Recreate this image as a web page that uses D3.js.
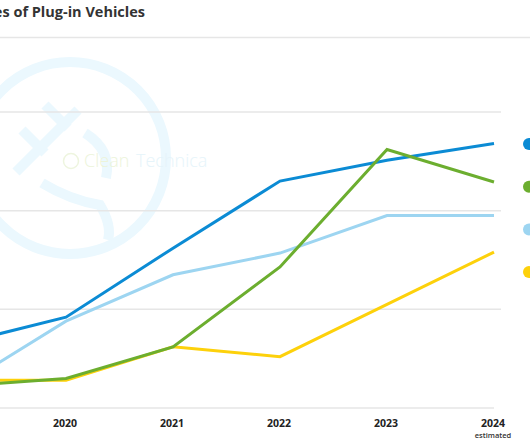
<!DOCTYPE html>
<html>
<head>
<meta charset="utf-8">
<script src="https://cdn.jsdelivr.net/npm/d3@7"></script>
<style>
  html, body { margin: 0; padding: 0; background: #fff; overflow: hidden; }
  svg { display: block; }
</style>
</head>
<body>
<svg id="chart" width="530" height="442"></svg>
<script>
// ---- data ----
const years = [2019, 2020, 2021, 2022, 2023, 2024];
const tickYears = [2020, 2021, 2022, 2023, 2024];
const tickSub = ["", "", "", "", "estimated"];
const yTicks = [0, 1, 2, 3];
const seriesBlue = [0.65, 0.92, 1.62, 2.30, 2.51, 2.68];
const seriesGreen = [0.22, 0.30, 0.62, 1.43, 2.62, 2.29];
const seriesLightBlue = [0.21, 0.88, 1.35, 1.57, 1.95, 1.95];
const seriesYellow = [0.28, 0.28, 0.62, 0.52, 1.05, 1.58];
const colors = { blue: "#0b8bd4", green: "#6cae2f", lightblue: "#9dd5f1", yellow: "#fdd10b" };
const title = "Sales of Plug-in Vehicles";

const svg = d3.select("#chart");
const x = d3.scaleLinear().domain([2019, 2024]).range([-41, 494]);
const y = d3.scaleLinear().domain([0, 3]).range([408, 112]);

// title
svg.append("text").attr("x", 145).attr("y", 17).attr("text-anchor", "end")
  .attr("font-family", "Open Sans").attr("font-weight", 700).attr("font-size", 14.5)
  .attr("fill", "#333").text(title);
svg.append("line").attr("x1", 0).attr("x2", 530).attr("y1", 37.5).attr("y2", 37.5)
  .attr("stroke", "#e6e6e6").attr("stroke-width", 1.5);

// watermark
const wm = svg.append("g").attr("fill", "none").attr("stroke", "#ebf8fe").attr("stroke-width", 10);
wm.append("circle").attr("cx", 70).attr("cy", 158).attr("r", 96);
wm.append("line").attr("x1", 16).attr("y1", 172).attr("x2", 78).attr("y2", 110);
wm.append("line").attr("x1", 22).attr("y1", 130).attr("x2", 45).attr("y2", 153);
wm.append("line").attr("x1", 45).attr("y1", 105).attr("x2", 68).attr("y2", 128);
wm.append("path").attr("d", "M85,133 Q112,150 106,178");
wm.append("path").attr("d", "M42,183 Q70,200 100,205 Q112,225 108,240");
svg.append("circle").attr("cx", 71).attr("cy", 161).attr("r", 7.5).attr("fill", "none")
  .attr("stroke", "#eef5df").attr("stroke-width", 1.5);
const wt = svg.append("g").attr("font-family", "Open Sans").attr("font-weight", 300).attr("font-size", 18);
wt.append("text").attr("x", 84).attr("y", 167).attr("fill", "#ecf4da").text("Clean");
wt.append("text").attr("x", 136).attr("y", 167).attr("fill", "#e6f4fa").text("Technica");

// gridlines
svg.append("g").selectAll("line").data(yTicks.filter(d => d > 0)).join("line")
  .attr("x1", 0).attr("x2", 501).attr("y1", d => y(d)).attr("y2", d => y(d))
  .attr("stroke", "#e6e6e6").attr("stroke-width", 1.5);
svg.append("line").attr("x1", 0).attr("x2", 494).attr("y1", y(0)).attr("y2", y(0))
  .attr("stroke", "#e6e6e6").attr("stroke-width", 1.5);

// x axis labels
const xa = svg.append("g").attr("font-family", "Open Sans").attr("text-anchor", "middle").attr("fill", "#222");
xa.selectAll("text.yr").data(tickYears).join("text").attr("class", "yr")
  .attr("x", d => x(d) - 1).attr("y", 427).attr("font-size", 10.5).attr("font-weight", 700).text(d => d);
xa.selectAll("text.sub").data(tickYears.map((d, i) => ({ d, s: tickSub[i] })).filter(o => o.s)).join("text")
  .attr("class", "sub").attr("x", o => x(o.d) - 1).attr("y", 438).attr("font-size", 7.5)
  .attr("font-weight", 600).attr("fill", "#333").text(o => o.s);

// lines
const line = d3.line().x((d, i) => x(years[i])).y(d => y(d));
const series = [
  { v: seriesYellow, c: colors.yellow },
  { v: seriesLightBlue, c: colors.lightblue },
  { v: seriesBlue, c: colors.blue },
  { v: seriesGreen, c: colors.green }
];
svg.append("g").selectAll("path").data(series).join("path")
  .attr("d", d => line(d.v)).attr("fill", "none").attr("stroke", d => d.c)
  .attr("stroke-width", 3).attr("stroke-linejoin", "miter");

// legend dots
const legend = [colors.blue, colors.green, colors.lightblue, colors.yellow];
svg.append("g").selectAll("circle").data(legend).join("circle")
  .attr("cx", 529).attr("cy", (d, i) => 144 + i * 42.7).attr("r", 6).attr("fill", d => d);
</script>
</body>
</html>
